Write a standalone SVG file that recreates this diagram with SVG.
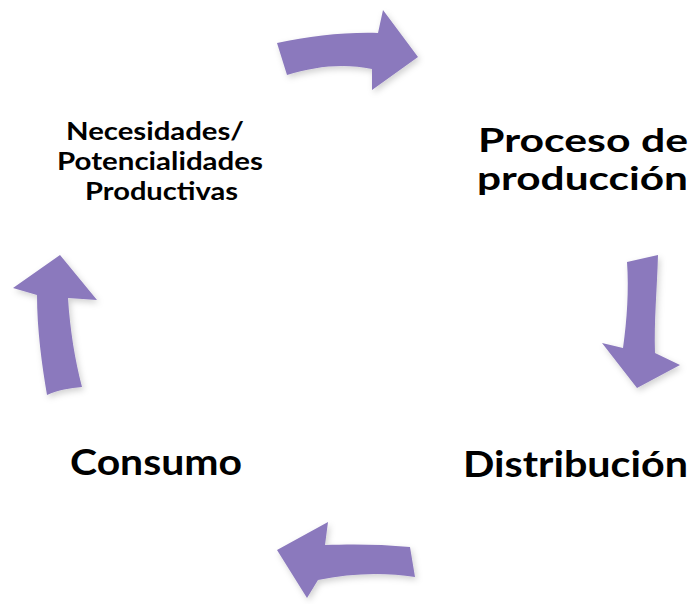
<svg xmlns="http://www.w3.org/2000/svg" width="694" height="604" viewBox="0 0 694 604">
<style>
.lbl{font-family:Lato,"Open Sans","Liberation Sans",sans-serif;font-weight:bold;fill:#000}
.arr{fill:#8b79bd;filter:url(#sh)}
</style>
<defs>
<filter id="sh" x="-20%" y="-20%" width="140%" height="140%">
<feDropShadow dx="2" dy="3" stdDeviation="3" flood-color="#000" flood-opacity="0.18"/>
</filter>
</defs>
<rect width="694" height="604" fill="#fff"/>
<g id="connectors">
<path class="arr" d="M277,43 C310,36 345,32 378,33 L383,10 L418,57 L372,90 L372,69 C345,63 315,66 287,75 Z"/>
<path class="arr" d="M627,262 L658,255 C657,290 654,320 655,353 L680,365 L637,388 L602,343 L623,348 C627,320 629,290 627,262 Z"/>
<path class="arr" d="M415,577 L410,547 C380,544 350,544 325,545 L328,522 L277,550 L307,598 L318,580 C350,573 385,572 415,577 Z"/>
<path class="arr" d="M47,395 C42,365 37,330 37,295 L13,288 L60,255 L97,300 L68,298 C70,330 75,360 82,387 C70,388 58,390 47,395 Z"/>
</g>
<g id="node-necesidades">
<text class="lbl" font-size="25" x="66" y="140" textLength="178" lengthAdjust="spacingAndGlyphs">Necesidades/</text>
<text class="lbl" font-size="25" x="57" y="170" textLength="206" lengthAdjust="spacingAndGlyphs">Potencialidades</text>
<text class="lbl" font-size="25" x="85" y="200" textLength="153" lengthAdjust="spacingAndGlyphs">Productivas</text>
</g>
<g id="node-proceso">
<text class="lbl" font-size="31.5" x="478" y="152" textLength="210" lengthAdjust="spacingAndGlyphs">Proceso de</text>
<text class="lbl" font-size="31.5" x="477" y="190" textLength="211" lengthAdjust="spacingAndGlyphs">producción</text>
</g>
<g id="node-distribucion">
<text class="lbl" font-size="37" x="463" y="477" textLength="225" lengthAdjust="spacingAndGlyphs">Distribución</text>
</g>
<g id="node-consumo">
<text class="lbl" font-size="37" x="70" y="475" textLength="172" lengthAdjust="spacingAndGlyphs">Consumo</text>
</g>
</svg>
